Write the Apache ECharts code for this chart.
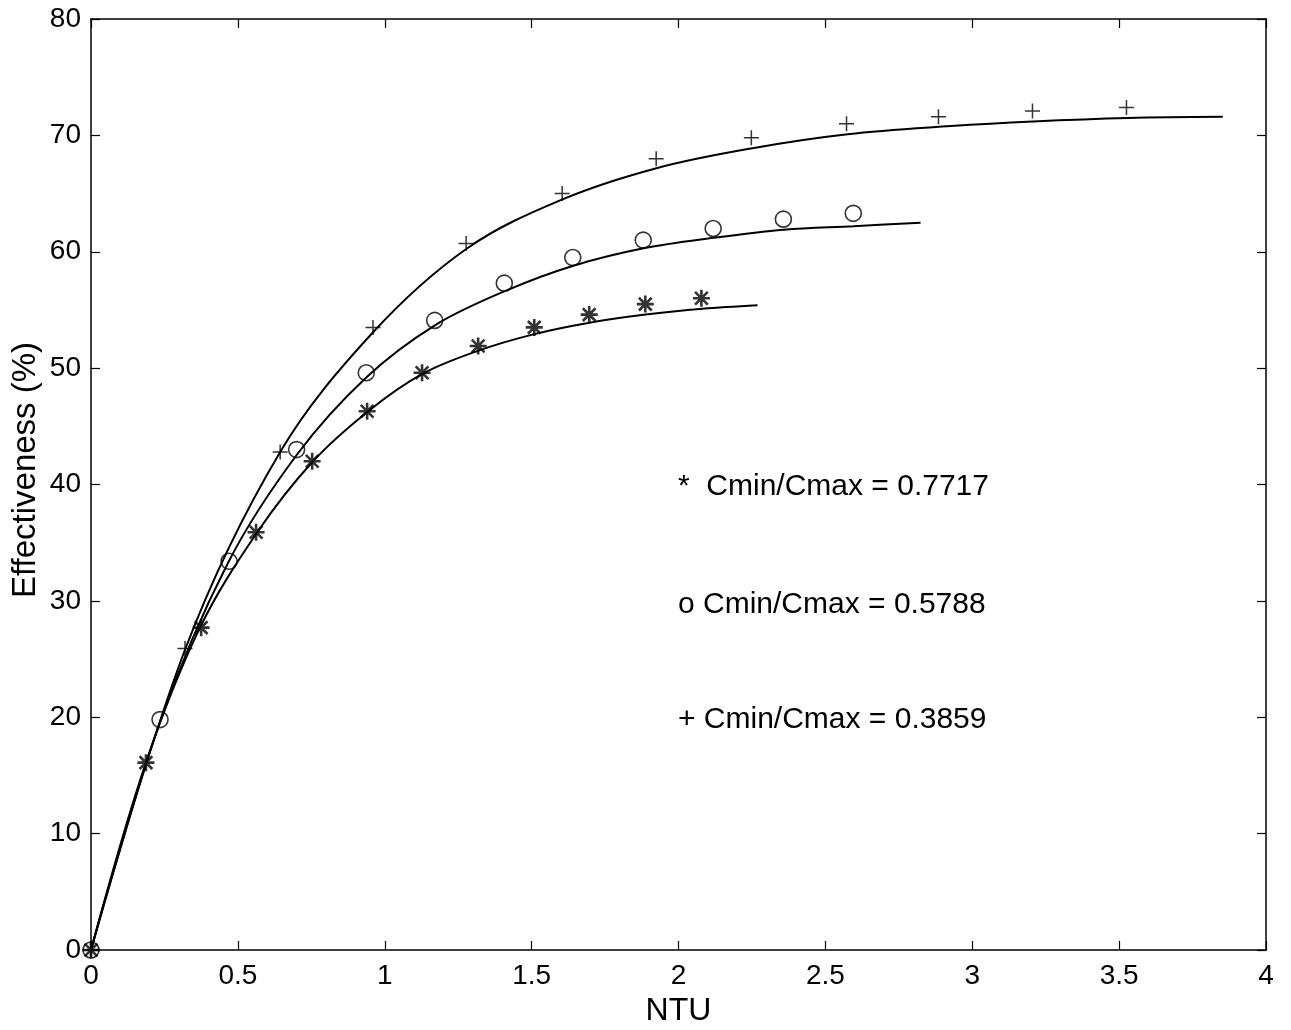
<!DOCTYPE html>
<html>
<head>
<meta charset="utf-8">
<title>Effectiveness vs NTU</title>
<script src="https://cdn.jsdelivr.net/npm/echarts@6/dist/echarts.min.js"></script>
<style>
  html, body { margin: 0; padding: 0; background: #fff; }
  #chart { width: 1291px; height: 1030px; }
</style>
</head>
<body>
<div id="chart"></div>
<script>
// Measured effectiveness (%) against NTU for three capacity-rate ratios
const ntuStar = [0, 0.187, 0.375, 0.562, 0.753, 0.94, 1.127, 1.318, 1.509, 1.696, 1.887, 2.078];
const effStar = [0, 16.1, 27.7, 35.9, 42.0, 46.3, 49.6, 51.9, 53.5, 54.6, 55.5, 56.0];

const ntuCircle = [0, 0.235, 0.47, 0.70, 0.937, 1.17, 1.407, 1.64, 1.88, 2.118, 2.357, 2.595];
const effCircle = [0, 19.8, 33.4, 43.0, 49.6, 54.1, 57.3, 59.5, 61.0, 62.0, 62.8, 63.3];

const ntuPlus = [0, 0.32, 0.644, 0.96, 1.277, 1.604, 1.924, 2.248, 2.572, 2.885, 3.205, 3.525];
const effPlus = [0, 25.9, 42.8, 53.5, 60.7, 65.0, 68.0, 69.8, 71.0, 71.6, 72.1, 72.4];

// Fitted curves
const fitStarNtu = [0, 0.187, 0.371, 0.566, 0.756, 0.944, 1.128, 1.319, 1.506, 1.697, 1.888, 2.082, 2.269];
const fitStarEff = [0, 16.1, 27.7, 35.9, 42.0, 46.3, 49.5, 51.5, 52.9, 53.9, 54.6, 55.1, 55.4];

const fitCircleNtu = [0, 0.235, 0.467, 0.702, 0.937, 1.172, 1.417, 1.642, 1.881, 2.119, 2.358, 2.596, 2.824];
const fitCircleEff = [0, 19.6, 33.3, 42.6, 49.2, 53.7, 56.7, 58.8, 60.3, 61.2, 61.9, 62.2, 62.5];

const fitPlusNtu = [0, 0.320, 0.644, 0.961, 1.281, 1.605, 1.928, 2.252, 2.576, 2.927, 3.206, 3.530, 3.853];
const fitPlusEff = [0, 25.8, 42.8, 53.1, 60.3, 64.5, 67.2, 68.9, 70.1, 70.8, 71.2, 71.5, 71.6];

// Axis ticks
const xTicks = [0, 0.5, 1, 1.5, 2, 2.5, 3, 3.5, 4];
const yTicks = [0, 10, 20, 30, 40, 50, 60, 70, 80];

const legendLines = [
  '*  Cmin/Cmax = 0.7717',
  'o Cmin/Cmax = 0.5788',
  '+ Cmin/Cmax = 0.3859'
];

const pair = (xs, ys) => xs.map((x, i) => [x, ys[i]]);

const FONT = 'Arial, "Liberation Sans", sans-serif';
const PLUS = 'path://M0,-10L0,10M-10,0L10,0';
const STAR = 'path://M0,-10L0,10M-10,0L10,0M-7.5,-7.5L7.5,7.5M-7.5,7.5L7.5,-7.5';

const chart = echarts.init(document.getElementById('chart'), null, { renderer: 'canvas' });

const axisCommon = {
  type: 'value',
  splitLine: { show: false },
  axisLine: { show: true, onZero: false, lineStyle: { color: '#000', width: 1.5 } },
  axisTick: { show: true, inside: true, length: 9, lineStyle: { color: '#000', width: 1.2 } }
};

const lineSeries = (data) => ({
  type: 'line',
  data: data,
  showSymbol: false,
  smooth: 0.35,
  lineStyle: { color: '#000', width: 2 },
  silent: true,
  z: 2
});

const markSeries = (data, symbol, size, width) => ({
  type: 'scatter',
  data: data,
  symbol: symbol,
  symbolSize: size,
  itemStyle: { color: 'rgba(0,0,0,0)', borderColor: '#000', borderWidth: width },
  silent: true,
  z: 3
});

chart.setOption({
  animation: false,
  backgroundColor: '#fff',
  grid: { left: 91, right: 25, top: 19, bottom: 80, containLabel: false, outerBoundsMode: 'none' },
  xAxis: [
    Object.assign({}, axisCommon, {
      position: 'bottom',
      min: 0, max: 4, interval: 0.5,
      name: 'NTU',
      nameLocation: 'middle',
      nameGap: 45,
      nameTextStyle: { fontFamily: FONT, fontSize: 32, color: '#000' },
      axisLabel: {
        color: '#000', fontFamily: FONT, fontSize: 28, margin: 12,
        formatter: (v) => xTicks.includes(v) ? String(v) : ''
      }
    }),
    Object.assign({}, axisCommon, {
      position: 'top',
      min: 0, max: 4, interval: 0.5,
      axisLabel: { show: false }
    })
  ],
  yAxis: [
    Object.assign({}, axisCommon, {
      position: 'left',
      min: 0, max: 80, interval: 10,
      axisLabel: {
        color: '#000', fontFamily: FONT, fontSize: 28, margin: 10,
        formatter: (v) => yTicks.includes(v) ? String(v) : ''
      }
    }),
    Object.assign({}, axisCommon, {
      position: 'right',
      min: 0, max: 80, interval: 10,
      axisLabel: { show: false }
    })
  ],
  series: [
    lineSeries(pair(fitPlusNtu, fitPlusEff)),
    lineSeries(pair(fitCircleNtu, fitCircleEff)),
    lineSeries(pair(fitStarNtu, fitStarEff)),
    markSeries(pair(ntuPlus, effPlus), PLUS, 15, 1.5),
    markSeries(pair(ntuCircle, effCircle), 'circle', 16, 1.6),
    markSeries(pair(ntuStar, effStar), STAR, 17, 2.6)
  ],
  graphic: [
    {
      // vertical axis title
      type: 'text',
      x: 26, y: 470,
      rotation: Math.PI / 2,
      silent: true,
      style: {
        text: 'Effectiveness (%)', fontFamily: FONT, fontSize: 33, fill: '#000',
        align: 'center', verticalAlign: 'middle'
      }
    }
  ].concat(legendLines.map((t, i) => ({
    type: 'text',
    x: 678,
    y: [487, 605, 720][i],
    silent: true,
    style: { text: t, fontFamily: FONT, fontSize: 30, fill: '#000', verticalAlign: 'middle' }
  })))
});
</script>
</body>
</html>
